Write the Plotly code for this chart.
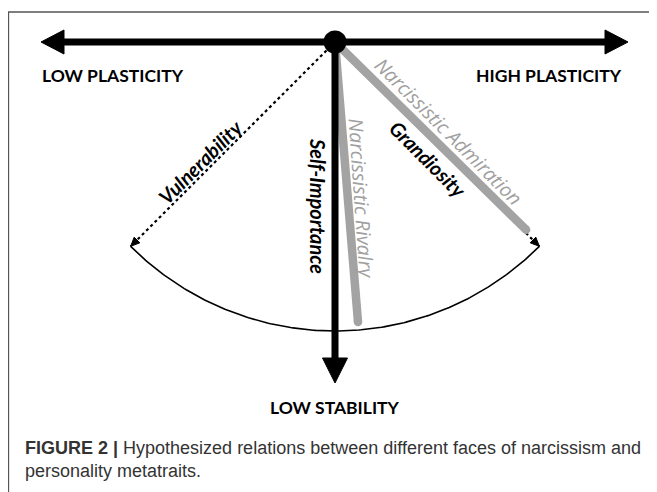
import numpy as np
import plotly.graph_objects as go

# Axes of the diagram (metatraits)
axis_labels = ["LOW PLASTICITY", "HIGH PLASTICITY", "LOW STABILITY"]

# Faces of narcissism: angle from straight down (deg)
faces = ["Vulnerability", "Self-Importance", "Grandiosity"]
face_angles = [-45, 0, 45]
gray_names = ["Narcissistic Rivalry", "Narcissistic Admiration"]
gray_angles = [4.7, 45.5]
gray_lengths = [281, 268]

caption_bold = "FIGURE 2 |"
caption_text = "Hypothesized relations between different faces of narcissism and<br>personality metatraits."

# hub of the diagram, in pixel space
hx, hy = 335, 42
radius = 289

def polar(angle, r):
    a = np.radians(angle)
    return hx + r * np.sin(a), hy + r * np.cos(a)

fig = go.Figure()

def line(xs, ys, color="black", width=2, dash=None):
    fig.add_trace(go.Scatter(x=xs, y=ys, mode="lines", hoverinfo="skip",
                             line=dict(color=color, width=width, dash=dash)))

def tri(xs, ys, color="black"):
    fig.add_trace(go.Scatter(x=xs, y=ys, mode="lines", fill="toself", fillcolor=color,
                             line=dict(color=color, width=1), hoverinfo="skip"))

# arc
t = np.linspace(-45, 45, 200)
ax_, ay_ = polar(t, radius)
line(ax_, ay_, width=1.6)

# dashed lines to the arc ends with small heads
for ang in [face_angles[0], face_angles[2]]:
    ex, ey = polar(ang, radius)
    sx, sy = polar(ang, 6)
    line([sx, ex], [sy, ey], width=2.2, dash="3px,3px")
    a = np.radians(ang)
    ux, uy = np.sin(a), np.cos(a)
    px_, py_ = -uy, ux
    bx, by = ex - 9 * ux, ey - 9 * uy
    tri([ex, bx + 4 * px_, bx - 4 * px_, ex], [ey, by + 4 * py_, by - 4 * py_, ey])

# gray lines
for ang, ln in zip(gray_angles, gray_lengths):
    ex, ey = polar(ang, ln)
    sx, sy = polar(ang, 4)
    fig.add_trace(go.Scatter(x=[sx, ex], y=[sy, ey], mode="lines", hoverinfo="skip",
                             line=dict(color="#a3a3a3", width=8.5)))
    fig.add_trace(go.Scatter(x=[ex], y=[ey], mode="markers", hoverinfo="skip",
                             marker=dict(color="#a3a3a3", size=8.5)))

# horizontal arrow
line([60, 608], [hy, hy], width=7)
tri([41, 64, 64, 41], [hy, hy - 12, hy + 12, hy])
tri([628, 605, 605, 628], [hy, hy - 12, hy + 12, hy])

# vertical arrow
line([hx, hx], [hy, 362], width=7)
tri([hx, hx - 12.5, hx + 12.5, hx], [383, 358, 358, 383])

# hub
fig.add_trace(go.Scatter(x=[hx], y=[hy], mode="markers", hoverinfo="skip",
                         marker=dict(color="black", size=23)))

annotations = []
bold_font = dict(family="Lato", size=17.5, color="black", weight="bold")
annotations.append(dict(x=40, y=75, text=axis_labels[0], xanchor="left", font=bold_font))
annotations.append(dict(x=624, y=75, text=axis_labels[1], xanchor="right", font=bold_font))
annotations.append(dict(x=hx, y=407, text=axis_labels[2], xanchor="center", font=bold_font))

lab_font = dict(family="Lato", size=20, color="black", weight="bold", style="italic")
gray_font = dict(family="Open Sans", size=19.5, color="#a0a0a0", style="italic")
annotations.append(dict(x=200, y=162, text=faces[0], textangle=-45, font=lab_font))
annotations.append(dict(x=318, y=206, text=faces[1], textangle=90, font=lab_font))
annotations.append(dict(x=428, y=159, text=faces[2], textangle=45, font=lab_font))
annotations.append(dict(x=362, y=198, text=gray_names[0], textangle=86, font=gray_font))
annotations.append(dict(x=449, y=131, text=gray_names[1], textangle=45, font=gray_font))

annotations.append(dict(x=23, y=459, xanchor="left", yanchor="middle", align="left",
                        text="<b>" + caption_bold + "</b> " + caption_text,
                        font=dict(family="Liberation Sans", size=18, color="#333333")))

for a in annotations:
    a.setdefault("xanchor", "center")
    a.setdefault("yanchor", "middle")
    a.update(xref="x", yref="y", showarrow=False)

# page body has an 8px margin, so the figure covers page pixels 8..657
fig.update_layout(
    width=649, height=484,
    margin=dict(l=0, r=0, t=0, b=0),
    paper_bgcolor="white", plot_bgcolor="white",
    showlegend=False,
    xaxis=dict(range=[8, 657], visible=False, fixedrange=True),
    yaxis=dict(range=[492, 8], visible=False, fixedrange=True),
    annotations=annotations,
    shapes=[dict(type="rect", xref="x", yref="y", x0=8.5, y0=12, x1=670, y1=510,
                 line=dict(color="#555555", width=1.3), layer="below")],
)

fig.write_html("out.html")
